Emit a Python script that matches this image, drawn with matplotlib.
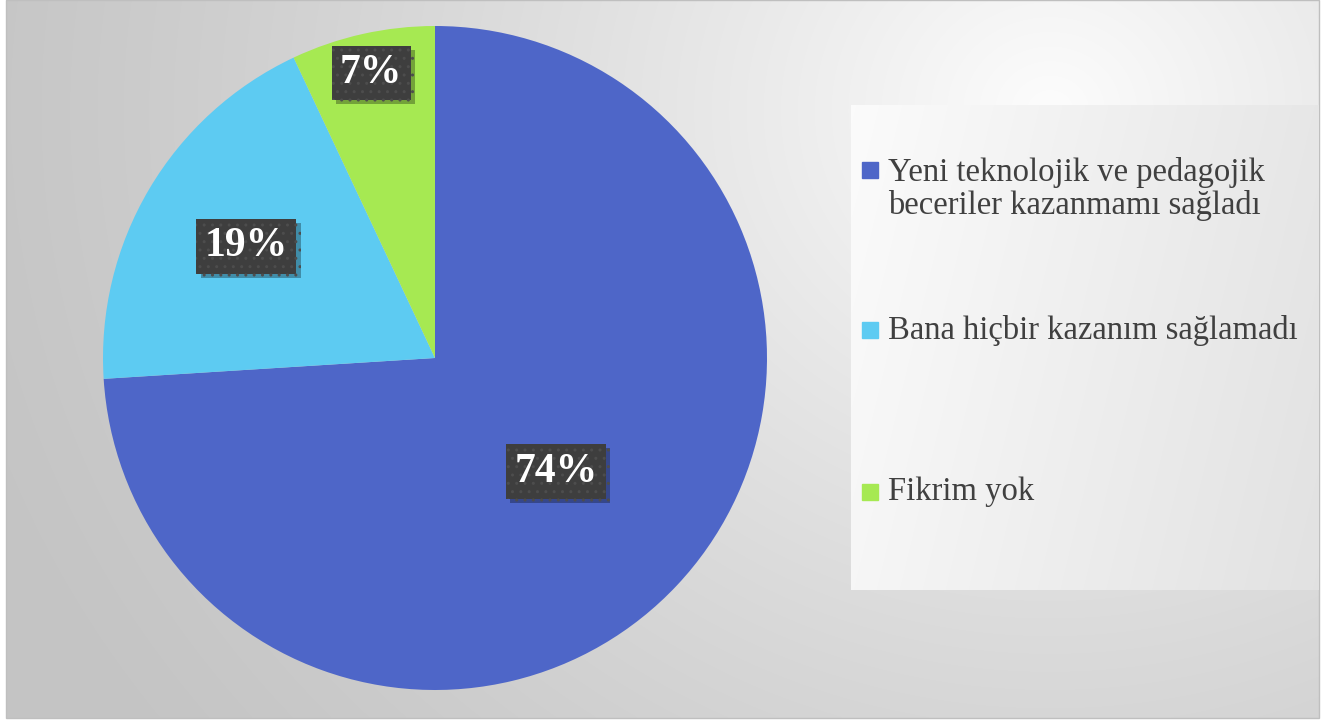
import numpy as np
import matplotlib.pyplot as plt
from matplotlib.patches import Rectangle
import matplotlib.patheffects as pe

# data
labels = ["Yeni teknolojik ve pedagojik\nbeceriler kazanmamı sağladı",
          "Bana hiçbir kazanım sağlamadı",
          "Fikrim yok"]
values = [74, 19, 7]
colors = ["#4E66C8", "#5DCBF2", "#A6E952"]

# where the % boxes sit, as fraction of radius
label_r = [0.50, 0.66, 0.88]

W, H = 1337, 724
fig = plt.figure(figsize=(W / 100, H / 100), dpi=100)

# background axes in pixel coords
bg = fig.add_axes([0, 0, 1, 1])
bg.axis("off")

# radial grey gradient for the chart area
x0, x1, y0, y1 = 6, 1319, 0, 718
yy, xx = np.mgrid[y0:y1:2, x0:x1:2]
d = np.hypot(xx - 1050, (yy - 110) * 1.1)
g = np.clip(1 - d / 1150, 0, 1)
shade = 0.77 + 0.22 * g ** 1.3
bg.imshow(np.dstack([shade, shade, shade]), extent=(x0, x1, y1, y0), aspect="auto",
          zorder=0, interpolation="bilinear")
bg.add_patch(Rectangle((x0, y0), x1 - x0, y1 - y0, fill=False, ec="#bfbfbf", lw=1, zorder=1))

# legend panel with its own gradient
lx0, lx1, ly0, ly1 = 851, 1319, 105, 590
ly, lxg = np.mgrid[ly0:ly1:2, lx0:lx1:2]
t = (lxg - lx0) / (lx1 - lx0) * 0.8 + (ly - ly0) / (ly1 - ly0) * 0.2
ls = 0.985 - 0.10 * t
bg.imshow(np.dstack([ls, ls, ls]), extent=(lx0, lx1, ly1, ly0), aspect="auto", zorder=1,
          interpolation="bilinear")

leg_y = [189, 330, 492]
for lab, col, y in zip(labels, colors, leg_y):
    first_line_y = y - 19 if "\n" in lab else y
    bg.add_patch(Rectangle((862, first_line_y - 8), 16, 16, color=col, zorder=3))
    bg.text(888, y, lab, fontsize=23.5, family="Liberation Serif", color="#404040",
            va="center", ha="left", linespacing=1.12, zorder=3)
bg.set_xlim(0, W)
bg.set_ylim(H, 0)

# pie axes
cx, cy, r = 435, 358, 332
ax = fig.add_axes([(cx - r) / W, (H - cy - r) / H, 2 * r / W, 2 * r / H])
wedges, _ = ax.pie(values, colors=colors, startangle=90, counterclock=False,
                   wedgeprops=dict(linewidth=0))
ax.set_xlim(-1, 1)
ax.set_ylim(-1, 1)
ax.set_aspect("equal")

shadow = [pe.SimplePatchShadow(offset=(3, -3), shadow_rgbFace="black", alpha=0.3), pe.Normal()]
for w, v, lr in zip(wedges, values, label_r):
    ang = np.deg2rad((w.theta1 + w.theta2) / 2)
    px, py = lr * np.cos(ang), lr * np.sin(ang)
    ax.text(px, py, f"{v}%", fontsize=30, family="Liberation Serif", weight="bold",
            color="white", ha="center", va="center",
            bbox=dict(boxstyle="square,pad=0.2", fc="#3E3E3E", ec="#4d4d4d", lw=0,
                      hatch="..", path_effects=shadow))

fig.savefig("out.png", dpi=100)
